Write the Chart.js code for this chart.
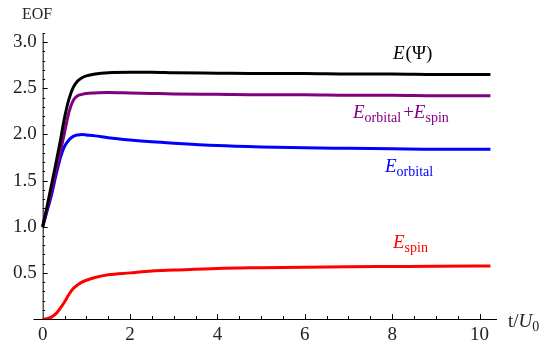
<!DOCTYPE html>
<html>
<head>
<meta charset="utf-8">
<script src="https://cdn.jsdelivr.net/npm/chart.js@4/dist/chart.umd.min.js"></script>
<style>
  html, body { margin: 0; padding: 0; background: #fff; }
  #wrap { width: 550px; height: 354px; position: relative; }
</style>
</head>
<body>
<div id="wrap"><canvas id="eofChart"></canvas></div>
<script>
// ===== DATA =====
const t      = [0, 0.1, 0.2, 0.3, 0.4, 0.5, 0.6, 0.7, 0.8, 0.9, 1.0, 1.2, 1.5, 2, 2.5, 3, 4, 5, 6, 7, 8, 9, 10.25];
const ePsi   = [1.0, 1.22, 1.45, 1.68, 1.92, 2.18, 2.38, 2.51, 2.58, 2.615, 2.635, 2.655, 2.67, 2.675, 2.675, 2.67, 2.665, 2.66, 2.66, 2.655, 2.655, 2.65, 2.65];
const eSum   = [1.0, 1.19, 1.38, 1.6, 1.8, 2.02, 2.24, 2.37, 2.42, 2.435, 2.445, 2.45, 2.455, 2.45, 2.445, 2.44, 2.435, 2.43, 2.43, 2.425, 2.425, 2.42, 2.42];
const eOrb   = [1.0, 1.17, 1.34, 1.55, 1.74, 1.87, 1.94, 1.98, 1.995, 2.0, 1.995, 1.985, 1.965, 1.94, 1.92, 1.905, 1.88, 1.865, 1.855, 1.85, 1.845, 1.84, 1.84];
const eSpin  = [0, 0.003, 0.02, 0.055, 0.115, 0.185, 0.265, 0.33, 0.37, 0.4, 0.42, 0.45, 0.48, 0.5, 0.52, 0.53, 0.548, 0.556, 0.562, 0.566, 0.569, 0.572, 0.575];

const xTicks = [0, 2, 4, 6, 8, 10];
const yTicks = [0.5, 1.0, 1.5, 2.0, 2.5, 3.0];
const yTickLabels = ['0.5', '1.0', '1.5', '2.0', '2.5', '3.0'];

const serif = '"Liberation Serif", "DejaVu Serif", serif';

function pts(ys) { return t.map((x, i) => ({ x, y: ys[i] })); }
function curve(ys, color) {
  return { data: pts(ys), borderColor: color, borderWidth: 3, pointRadius: 0, fill: false, cubicInterpolationMode: 'monotone' };
}

// draws a label made of pieces (font / baseline shift)
function rich(ctx, x, y, parts, color) {
  ctx.fillStyle = color;
  ctx.textAlign = 'left';
  ctx.textBaseline = 'alphabetic';
  let cx = x;
  parts.forEach(p => {
    ctx.font = p.f;
    ctx.fillText(p.s, cx, y + (p.dy || 0));
    cx += ctx.measureText(p.s).width + (p.gap || 0);
  });
}

// ===== MATHEMATICA-STYLE AXES =====
const axesPlugin = {
  id: 'mmaAxes',
  beforeDatasetsDraw(chart) {
    const { ctx, chartArea: a, scales: { x, y } } = chart;
    const x0 = x.getPixelForValue(0), y0 = y.getPixelForValue(0);
    ctx.save();
    ctx.strokeStyle = '#000';
    ctx.lineWidth = 1;
    ctx.beginPath();
    ctx.moveTo(a.left, y0 + 0.5); ctx.lineTo(a.right, y0 + 0.5);
    ctx.moveTo(x0 + 0.5, y0); ctx.lineTo(x0 + 0.5, a.top);
    // x ticks
    for (let v = 0.5; v <= 10.3; v += 0.5) {
      const px = Math.round(x.getPixelForValue(v)) + 0.5;
      const len = xTicks.includes(v) ? 5 : 3;
      ctx.moveTo(px, y0); ctx.lineTo(px, y0 - len);
    }
    // y ticks
    for (let k = 1; k <= 31; k++) {
      const v = k / 10;
      const py = Math.round(y.getPixelForValue(v)) + 0.5;
      const len = k % 5 === 0 ? 5 : 2.5;
      ctx.moveTo(x0, py); ctx.lineTo(x0 + len, py);
    }
    ctx.stroke();

    ctx.fillStyle = '#222';
    ctx.font = '19px ' + serif;
    ctx.textAlign = 'center';
    ctx.textBaseline = 'middle';
    xTicks.forEach(v => ctx.fillText(String(v), x.getPixelForValue(v), y0 + 16));
    ctx.textAlign = 'right';
    yTicks.forEach((v, i) => ctx.fillText(yTickLabels[i], x0 - 6, y.getPixelForValue(v)));

    // axis titles
    ctx.font = '16px ' + serif;
    ctx.textAlign = 'left';
    ctx.textBaseline = 'alphabetic';
    ctx.fillText('EOF', 22, 19);
    rich(ctx, 508, 327, [
      { s: 't/', f: '19px ' + serif },
      { s: 'U', f: 'italic 19px ' + serif },
      { s: '0', f: '14px ' + serif, dy: 4 }
    ], '#222');
    ctx.restore();
  },
  afterDraw(chart) {
    const { ctx } = chart;
    const big = '19px ' + serif, it = 'italic 19px ' + serif, sub = '14px ' + serif;
    ctx.save();
    rich(ctx, 393, 59, [{ s: 'E', f: it, gap: 1 }, { s: '(\u03A8)', f: big }], '#000');
    rich(ctx, 353, 118, [
      { s: 'E', f: it }, { s: 'orbital', f: sub, dy: 4, gap: 2 },
      { s: '+', f: big }, { s: 'E', f: it }, { s: 'spin', f: sub, dy: 4 }
    ], '#800080');
    rich(ctx, 385, 172, [{ s: 'E', f: it }, { s: 'orbital', f: sub, dy: 4 }], '#0000ff');
    rich(ctx, 393, 248, [{ s: 'E', f: it }, { s: 'spin', f: sub, dy: 4 }], '#ff0000');
    ctx.restore();
  }
};

new Chart(document.getElementById('eofChart'), {
  type: 'line',
  data: {
    datasets: [
      curve(ePsi, '#000000'),
      curve(eSum, '#800080'),
      curve(eOrb, '#0000ff'),
      curve(eSpin, '#ff0000')
    ]
  },
  options: {
    responsive: true,
    maintainAspectRatio: false,
    animation: false,
    layout: { padding: { left: 33.5, right: 53, top: 33, bottom: 35 } },
    plugins: { legend: { display: false }, tooltip: { enabled: false } },
    scales: {
      x: { type: 'linear', min: -0.21, max: 10.4, display: false },
      y: { type: 'linear', min: 0, max: 3.1, display: false }
    }
  },
  plugins: [axesPlugin]
});
</script>
</body>
</html>
